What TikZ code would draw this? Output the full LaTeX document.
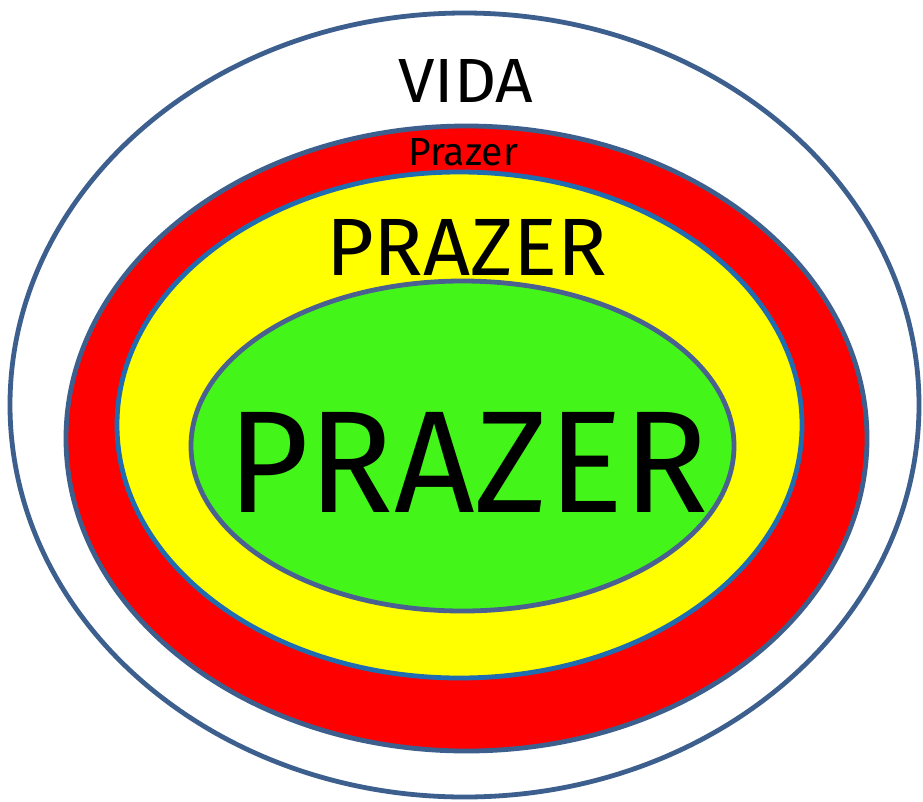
\documentclass[tikz,border=0pt]{standalone}
\usepackage{fontspec}
\setmainfont{Fira Sans}
\usetikzlibrary{shapes.geometric}
\definecolor{rimblue}{HTML}{3D5F8E}
\definecolor{midblue}{HTML}{1F6DB0}
\definecolor{greenrim}{HTML}{4A6090}
\definecolor{ringred}{HTML}{FF0000}
\definecolor{ringyellow}{HTML}{FFFF00}
\definecolor{ringgreen}{HTML}{44F519}
\tikzset{
  ring/.style={ellipse, inner sep=0pt, line width=4.8pt},
  lbl/.style={inner sep=0pt, anchor=north west, text=black}
}
\begin{document}
\begin{tikzpicture}[x=1pt,y=-1pt]
\useasboundingbox (0,0) rectangle (923,801);
\fill[white] (0,0) rectangle (923,801);
\node[ring, draw=rimblue, fill=white, minimum width=909pt, minimum height=784pt] (vida) at (464.5,405) {};
\node[ring, draw=rimblue, fill=ringred, minimum width=801pt, minimum height=625pt] (red) at (466.5,438.5) {};
\node[ring, draw=midblue, fill=ringyellow, minimum width=685pt, minimum height=506pt] (yellow) at (459.5,425) {};
\node[ring, draw=greenrim, fill=ringgreen, minimum width=543pt, minimum height=330pt] (green) at (462.5,446) {};
\node[lbl] (tvida) at (398,59) {\resizebox{135pt}{43pt}{VIDA}};
\node[lbl] (tred) at (408,138) {\resizebox{110pt}{27pt}{Prazer}};
\node[lbl] (tyellow) at (326,219) {\resizebox{281pt}{56pt}{PRAZER}};
\node[lbl] (tgreen) at (227,412) {\resizebox{481pt}{100pt}{PRAZER}};
\end{tikzpicture}
\end{document}
